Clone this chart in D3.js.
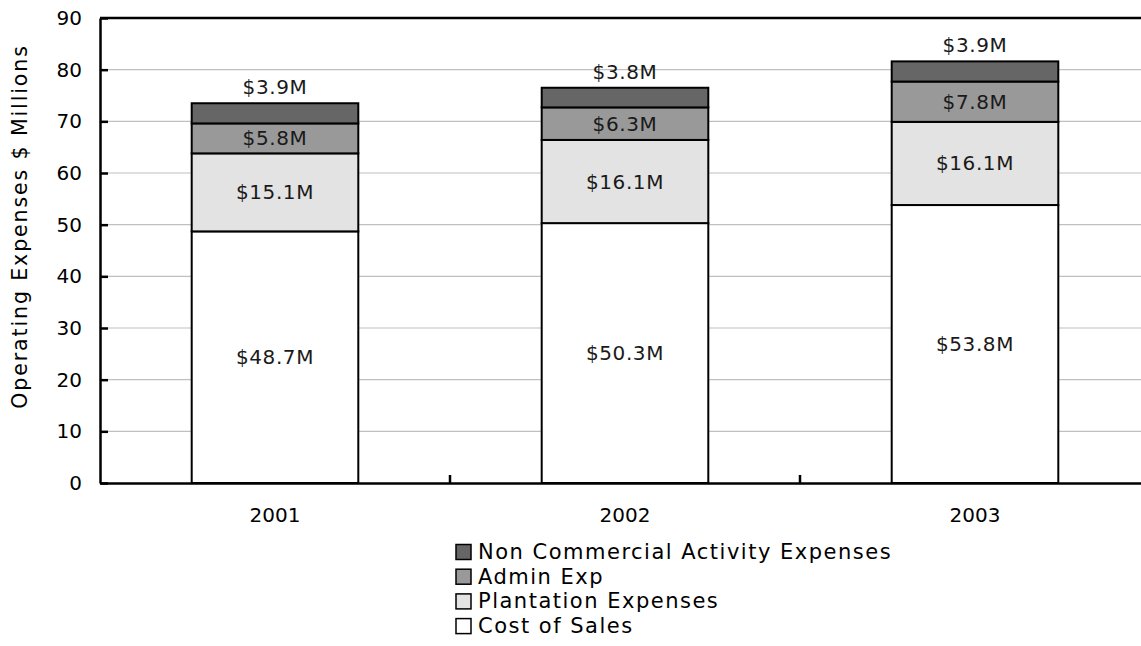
<!DOCTYPE html>
<html>
<head>
<meta charset="utf-8">
<script src="https://cdn.jsdelivr.net/npm/d3@7"></script>
<style>
  html, body { margin: 0; padding: 0; background: #fff; }
  svg { display: block; font-family: "DejaVu Sans", Verdana, sans-serif; }
</style>
</head>
<body>
<svg id="chart" width="1141" height="646"></svg>
<script>
// Operating expenses by year, $ millions
const years = ["2001", "2002", "2003"];
const costOfSales = [48.7, 50.3, 53.8];
const plantation = [15.1, 16.1, 16.1];
const adminExp = [5.8, 6.3, 7.8];
const nonCommercial = [3.9, 3.8, 3.9];
const yTicks = [0, 10, 20, 30, 40, 50, 60, 70, 80, 90];

const seriesDefs = [
  { name: "Cost of Sales", values: costOfSales, fill: "#ffffff" },
  { name: "Plantation Expenses", values: plantation, fill: "#e3e3e3" },
  { name: "Admin Exp", values: adminExp, fill: "#999999" },
  { name: "Non Commercial Activity Expenses", values: nonCommercial, fill: "#666666" }
];

const svg = d3.select("#chart");
const margin = { left: 100, top: 18, right: -9, bottom: 163 };
const W = 1141, H = 646;
const x0 = margin.left, x1 = W - margin.right;
const y0 = H - margin.bottom, y1 = margin.top;

const x = d3.scaleBand().domain(years).range([x0, x1]).paddingInner(0).paddingOuter(0);
const y = d3.scaleLinear().domain([0, 90]).range([y0, y1]);

// gridlines
svg.append("g").selectAll("line").data(yTicks.filter(t => t > 0 && t < 90)).join("line")
  .attr("x1", x0).attr("x2", x1)
  .attr("y1", d => y(d)).attr("y2", d => y(d))
  .attr("stroke", "#c0c0c0").attr("stroke-width", 1.2);

// stacked bars
const table = years.map((yr, i) => {
  const row = { year: yr };
  seriesDefs.forEach(s => row[s.name] = s.values[i]);
  return row;
});
const stack = d3.stack().keys(seriesDefs.map(s => s.name))(table);
const barW = x.bandwidth() * 0.476;

stack.forEach((layer, li) => {
  const def = seriesDefs[li];
  svg.append("g").selectAll("rect").data(layer).join("rect")
    .attr("x", d => x(d.data.year) + (x.bandwidth() - barW) / 2)
    .attr("width", barW)
    .attr("y", d => y(d[1]))
    .attr("height", d => y(d[0]) - y(d[1]))
    .attr("fill", def.fill)
    .attr("stroke", "#000").attr("stroke-width", 2);
});

// value labels: top series sits above its bar, the rest are centred in their segment
stack.forEach((layer, li) => {
  const top = li === seriesDefs.length - 1;
  svg.append("g").selectAll("text").data(layer).join("text")
    .attr("x", d => x(d.data.year) + x.bandwidth() / 2)
    .attr("y", d => top ? y(d[1]) - 16 : (y(d[0]) + y(d[1])) / 2)
    .attr("text-anchor", "middle")
    .attr("dominant-baseline", "central")
    .attr("font-size", 20)
    .attr("letter-spacing", 0.6)
    .attr("fill", "#1a1a1a")
    .text(d => "$" + (d[1] - d[0]).toFixed(1) + "M");
});

// y axis
const yAxis = d3.axisLeft(y).tickValues(yTicks).tickSizeInner(-8).tickSizeOuter(0).tickPadding(18);
const gy = svg.append("g").attr("transform", `translate(${x0},0)`).call(yAxis);
gy.select(".domain").attr("stroke", "#000").attr("stroke-width", 2.5);
gy.selectAll(".tick line").attr("stroke", "#000").attr("stroke-width", 2.5);
gy.selectAll(".tick text").attr("font-size", 20).attr("fill", "#000")
  .attr("font-family", "DejaVu Sans, Verdana, sans-serif");

// x axis with category separators
const xAxis = d3.axisBottom(x).tickSize(0).tickPadding(25);
const gx = svg.append("g").attr("transform", `translate(0,${y0})`).call(xAxis);
gx.select(".domain").attr("stroke", "#000").attr("stroke-width", 2.5);
gx.selectAll(".tick text").attr("font-size", 20).attr("fill", "#000")
  .attr("font-family", "DejaVu Sans, Verdana, sans-serif");
svg.append("g").selectAll("line").data(years.slice(1)).join("line")
  .attr("x1", d => x(d)).attr("x2", d => x(d))
  .attr("y1", y0).attr("y2", y0 - 8)
  .attr("stroke", "#000").attr("stroke-width", 2.5);

// top border of plot
svg.append("line").attr("x1", x0).attr("x2", x1).attr("y1", y1).attr("y2", y1)
  .attr("stroke", "#000").attr("stroke-width", 2.5);

// y axis title
svg.append("text")
  .attr("transform", `translate(27,${(y0 + y1) / 2 - 24}) rotate(-90)`)
  .attr("text-anchor", "middle")
  .attr("font-size", 20.5)
  .attr("letter-spacing", 1.9)
  .attr("fill", "#000")
  .text("Operating Expenses $ Millions");

// legend, top series first
const legend = svg.append("g").attr("transform", "translate(456,552)");
const legendItems = seriesDefs.slice().reverse();
legendItems.forEach((s, i) => {
  const row = legend.append("g").attr("transform", `translate(0,${i * 24.7})`);
  row.append("rect").attr("x", 0).attr("y", -7.5).attr("width", 15).attr("height", 15)
    .attr("fill", s.fill).attr("stroke", "#000").attr("stroke-width", 1.5);
  row.append("text").attr("x", 22).attr("y", 0)
    .attr("dominant-baseline", "central")
    .attr("font-size", 21).attr("letter-spacing", 1.5)
    .attr("fill", "#000")
    .text(s.name);
});
</script>
</body>
</html>
